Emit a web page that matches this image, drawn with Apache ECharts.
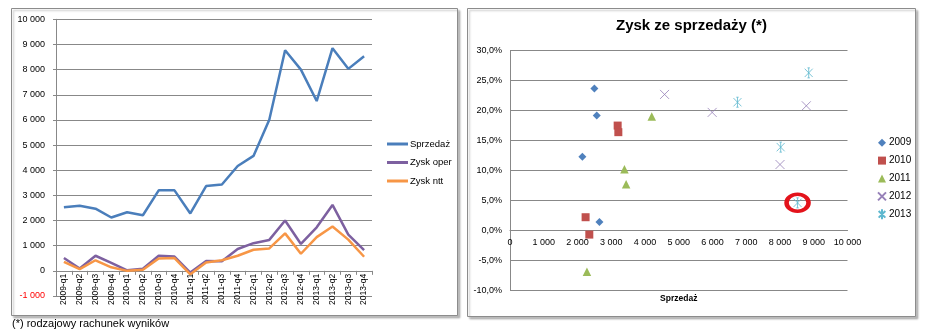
<!DOCTYPE html>
<html>
<head>
<meta charset="utf-8">
<script src="https://cdn.jsdelivr.net/npm/echarts@6/dist/echarts.min.js"></script>
<style>
  html, body { margin: 0; padding: 0; background: #fff; }
  #chart { width: 929px; height: 331px; }
</style>
</head>
<body>
<div id="chart"></div>
<script>
// Quarterly results 2009-2013
const quarters = ['2009-q1','2009-q2','2009-q3','2009-q4','2010-q1','2010-q2','2010-q3','2010-q4',
  '2011-q1','2011-q2','2011-q3','2011-q4','2012-q1','2012-q2','2012-q3','2012-q4',
  '2013-q1','2013-q2','2013-q3','2013-q4'];
const sprzedaz  = [2530, 2590, 2470, 2120, 2330, 2210, 3200, 3200, 2280, 3370, 3430, 4170, 4570, 6010, 8770, 8000, 6750, 8850, 8030, 8530];
const zyskOper  = [510, 90, 600, 320, 20, 80, 600, 570, -70, 390, 380, 870, 1100, 1230, 2000, 1070, 1730, 2620, 1440, 820];
const zyskNtt   = [360, 70, 420, 140, 0, 40, 490, 510, -140, 330, 420, 600, 840, 890, 1490, 680, 1340, 1760, 1240, 560];

// Sales vs. margin on sales (%), one array per year
const rok2009 = [[2500, 23.7], [2570, 19.2], [2145, 12.3], [2650, 1.4]];
const rok2010 = [[3190, 17.5], [3210, 16.4], [2240, 2.2], [2350, -0.7]];
const rok2011 = [[4200, 19.0], [3390, 10.2], [3440, 7.7], [2280, -6.9]];
const rok2012 = [[4580, 22.7], [5990, 19.7], [8780, 20.8], [8000, 11.0]];
const rok2013 = [[8850, 26.3], [6740, 21.4], [8020, 13.9], [8520, 4.6]];
const wyroznienie = [rok2013[3]];

const FONT = '"Liberation Sans", Arial, sans-serif';
const GRID_COLOR = '#888888';

// Left plot: 11 bands between -1000 and 10000; horizontal axis sits on the 0 line
const LEFT_H = 276.7;
// Right plot: 8 bands between -10% and 30%; horizontal axis sits on the 0% line
const RIGHT_H = 239.6;

function tys(v) {
  const s = String(Math.abs(v)).replace(/\B(?=(\d{3})+(?!\d))/g, '\u00a0');
  return (v < 0 ? '-' : '') + s;
}
function proc(v) {
  return v.toFixed(1).replace('.', ',') + '%';
}

const xMarkPath = 'path://M0,0L10,10M10,0L0,10';
const starPath = 'path://M0,0L10,10M10,0L0,10M5,-1L5,11M3.5,-1L6.5,-1M3.5,11L6.5,11';

const chart = echarts.init(document.getElementById('chart'), null, { renderer: 'canvas' });

chart.setOption({
  animation: false,
  backgroundColor: '#ffffff',
  textStyle: { fontFamily: FONT },
  title: {
    text: 'Zysk ze sprzedaży (*)',
    left: 616, top: 18, padding: 0,
    textStyle: { fontFamily: FONT, fontSize: 15, fontWeight: 'bold', color: '#000' }
  },
  graphic: [
    { type: 'rect', shape: { x: 11.5, y: 8.5, width: 446, height: 307 }, z: -10,
      style: { fill: '#fff', stroke: '#8c8c8c', lineWidth: 1, shadowColor: 'rgba(0,0,0,0.25)', shadowOffsetX: 2, shadowOffsetY: 2, shadowBlur: 2 } },
    { type: 'rect', shape: { x: 467.5, y: 8.5, width: 448, height: 308 }, z: -10,
      style: { fill: '#fff', stroke: '#8c8c8c', lineWidth: 1, shadowColor: 'rgba(0,0,0,0.25)', shadowOffsetX: 2, shadowOffsetY: 2, shadowBlur: 2 } },
    { type: 'text', left: 12, top: 318,
      style: { text: '(*) rodzajowy rachunek wyników', font: '11px ' + FONT, fill: '#000' } }
  ],
  legend: [
    {
      data: ['Sprzedaż', 'Zysk oper', 'Zysk ntt'],
      orient: 'vertical', left: 387, top: 138, padding: 0,
      icon: 'rect', itemWidth: 21, itemHeight: 3, itemGap: 6.5,
      textStyle: { fontFamily: FONT, fontSize: 9.5, lineHeight: 12, color: '#000', padding: [0, 0, 0, -3] }
    },
    {
      data: ['2009', '2010', '2011', '2012', '2013'],
      orient: 'vertical', left: 877, top: 136.7, padding: 0,
      itemWidth: 8, itemHeight: 8, itemGap: 5.9,
      textStyle: { fontFamily: FONT, fontSize: 10, lineHeight: 12, color: '#000', padding: [0, 0, 0, -2] }
    }
  ],
  grid: [
    { left: 56, top: 19.3, width: 316, height: LEFT_H, containLabel: false, outerBoundsMode: 'none' },
    { left: 510, top: 50.7, width: 337.5, height: RIGHT_H, containLabel: false, outerBoundsMode: 'none' }
  ],
  xAxis: [
    {
      type: 'category', gridIndex: 0, data: quarters, boundaryGap: true,
      offset: -LEFT_H / 11,
      axisLine: { onZero: false, lineStyle: { color: GRID_COLOR, width: 1 } },
      axisTick: { show: true, length: 4, lineStyle: { color: GRID_COLOR } },
      axisLabel: { rotate: 90, interval: 0, margin: 3, fontSize: 8.5, fontFamily: FONT, color: '#000' }
    },
    {
      type: 'value', gridIndex: 1, min: 0, max: 10000, interval: 1000,
      offset: -RIGHT_H / 4,
      name: 'Sprzedaż', nameLocation: 'middle', nameGap: 64,
      nameTextStyle: { fontFamily: FONT, fontSize: 8.5, fontWeight: 'bold', color: '#000' },
      axisLine: { onZero: false, lineStyle: { color: GRID_COLOR } },
      axisTick: { show: false },
      splitLine: { show: false },
      axisLabel: { margin: 8, fontSize: 9, fontFamily: FONT, color: '#000', formatter: tys }
    }
  ],
  yAxis: [
    {
      type: 'value', gridIndex: 0, min: -1000, max: 10000, interval: 1000,
      axisLine: { show: true, lineStyle: { color: GRID_COLOR } },
      axisTick: { show: true, length: 3, lineStyle: { color: GRID_COLOR } },
      splitLine: { show: true, lineStyle: { color: GRID_COLOR, width: 1 } },
      axisLabel: {
        margin: 11, fontSize: 9, fontFamily: FONT,
        color: function (v) { return Number(v) < 0 ? '#ff0000' : '#000'; },
        formatter: tys
      }
    },
    {
      type: 'value', gridIndex: 1, min: -10, max: 30, interval: 5,
      axisLine: { show: true, lineStyle: { color: GRID_COLOR } },
      axisTick: { show: false },
      splitLine: { show: true, lineStyle: { color: GRID_COLOR, width: 1 } },
      axisLabel: { margin: 8, fontSize: 9, fontFamily: FONT, color: '#000', formatter: proc }
    }
  ],
  series: [
    { name: 'Sprzedaż', type: 'line', xAxisIndex: 0, yAxisIndex: 0, data: sprzedaz,
      symbol: 'none', lineStyle: { color: '#4A7EBB', width: 2.5 }, itemStyle: { color: '#4A7EBB' } },
    { name: 'Zysk oper', type: 'line', xAxisIndex: 0, yAxisIndex: 0, data: zyskOper,
      symbol: 'none', lineStyle: { color: '#7D60A0', width: 2.5 }, itemStyle: { color: '#7D60A0' } },
    { name: 'Zysk ntt', type: 'line', xAxisIndex: 0, yAxisIndex: 0, data: zyskNtt,
      symbol: 'none', lineStyle: { color: '#F79646', width: 2.5 }, itemStyle: { color: '#F79646' } },

    { name: '2009', type: 'scatter', xAxisIndex: 1, yAxisIndex: 1, data: rok2009,
      symbol: 'diamond', symbolSize: 8, itemStyle: { color: '#4F81BD', opacity: 1 } },
    { name: '2010', type: 'scatter', xAxisIndex: 1, yAxisIndex: 1, data: rok2010,
      symbol: 'rect', symbolSize: 8, itemStyle: { color: '#C0504D', opacity: 1 } },
    { name: '2011', type: 'scatter', xAxisIndex: 1, yAxisIndex: 1, data: rok2011,
      symbol: 'triangle', symbolSize: 8.5, itemStyle: { color: '#9BBB59', opacity: 1 } },
    { name: '2012', type: 'scatter', xAxisIndex: 1, yAxisIndex: 1, data: rok2012,
      symbol: xMarkPath, symbolSize: 9,
      itemStyle: { color: '#9680B8', borderColor: '#9680B8', borderWidth: 0.8, opacity: 1 } },
    { name: '2013', type: 'scatter', xAxisIndex: 1, yAxisIndex: 1, data: rok2013,
      symbol: starPath, symbolSize: [8, 10],
      itemStyle: { color: '#5EB8CF', borderColor: '#5EB8CF', borderWidth: 0.8, opacity: 1 } },
    { name: 'wyróżnienie', type: 'scatter', xAxisIndex: 1, yAxisIndex: 1, data: wyroznienie,
      symbol: 'circle', symbolSize: [22, 17], z: 5, silent: true,
      itemStyle: { color: 'rgba(0,0,0,0)', borderColor: '#E3131B', borderWidth: 4, opacity: 1 } }
  ]
});
</script>
</body>
</html>
